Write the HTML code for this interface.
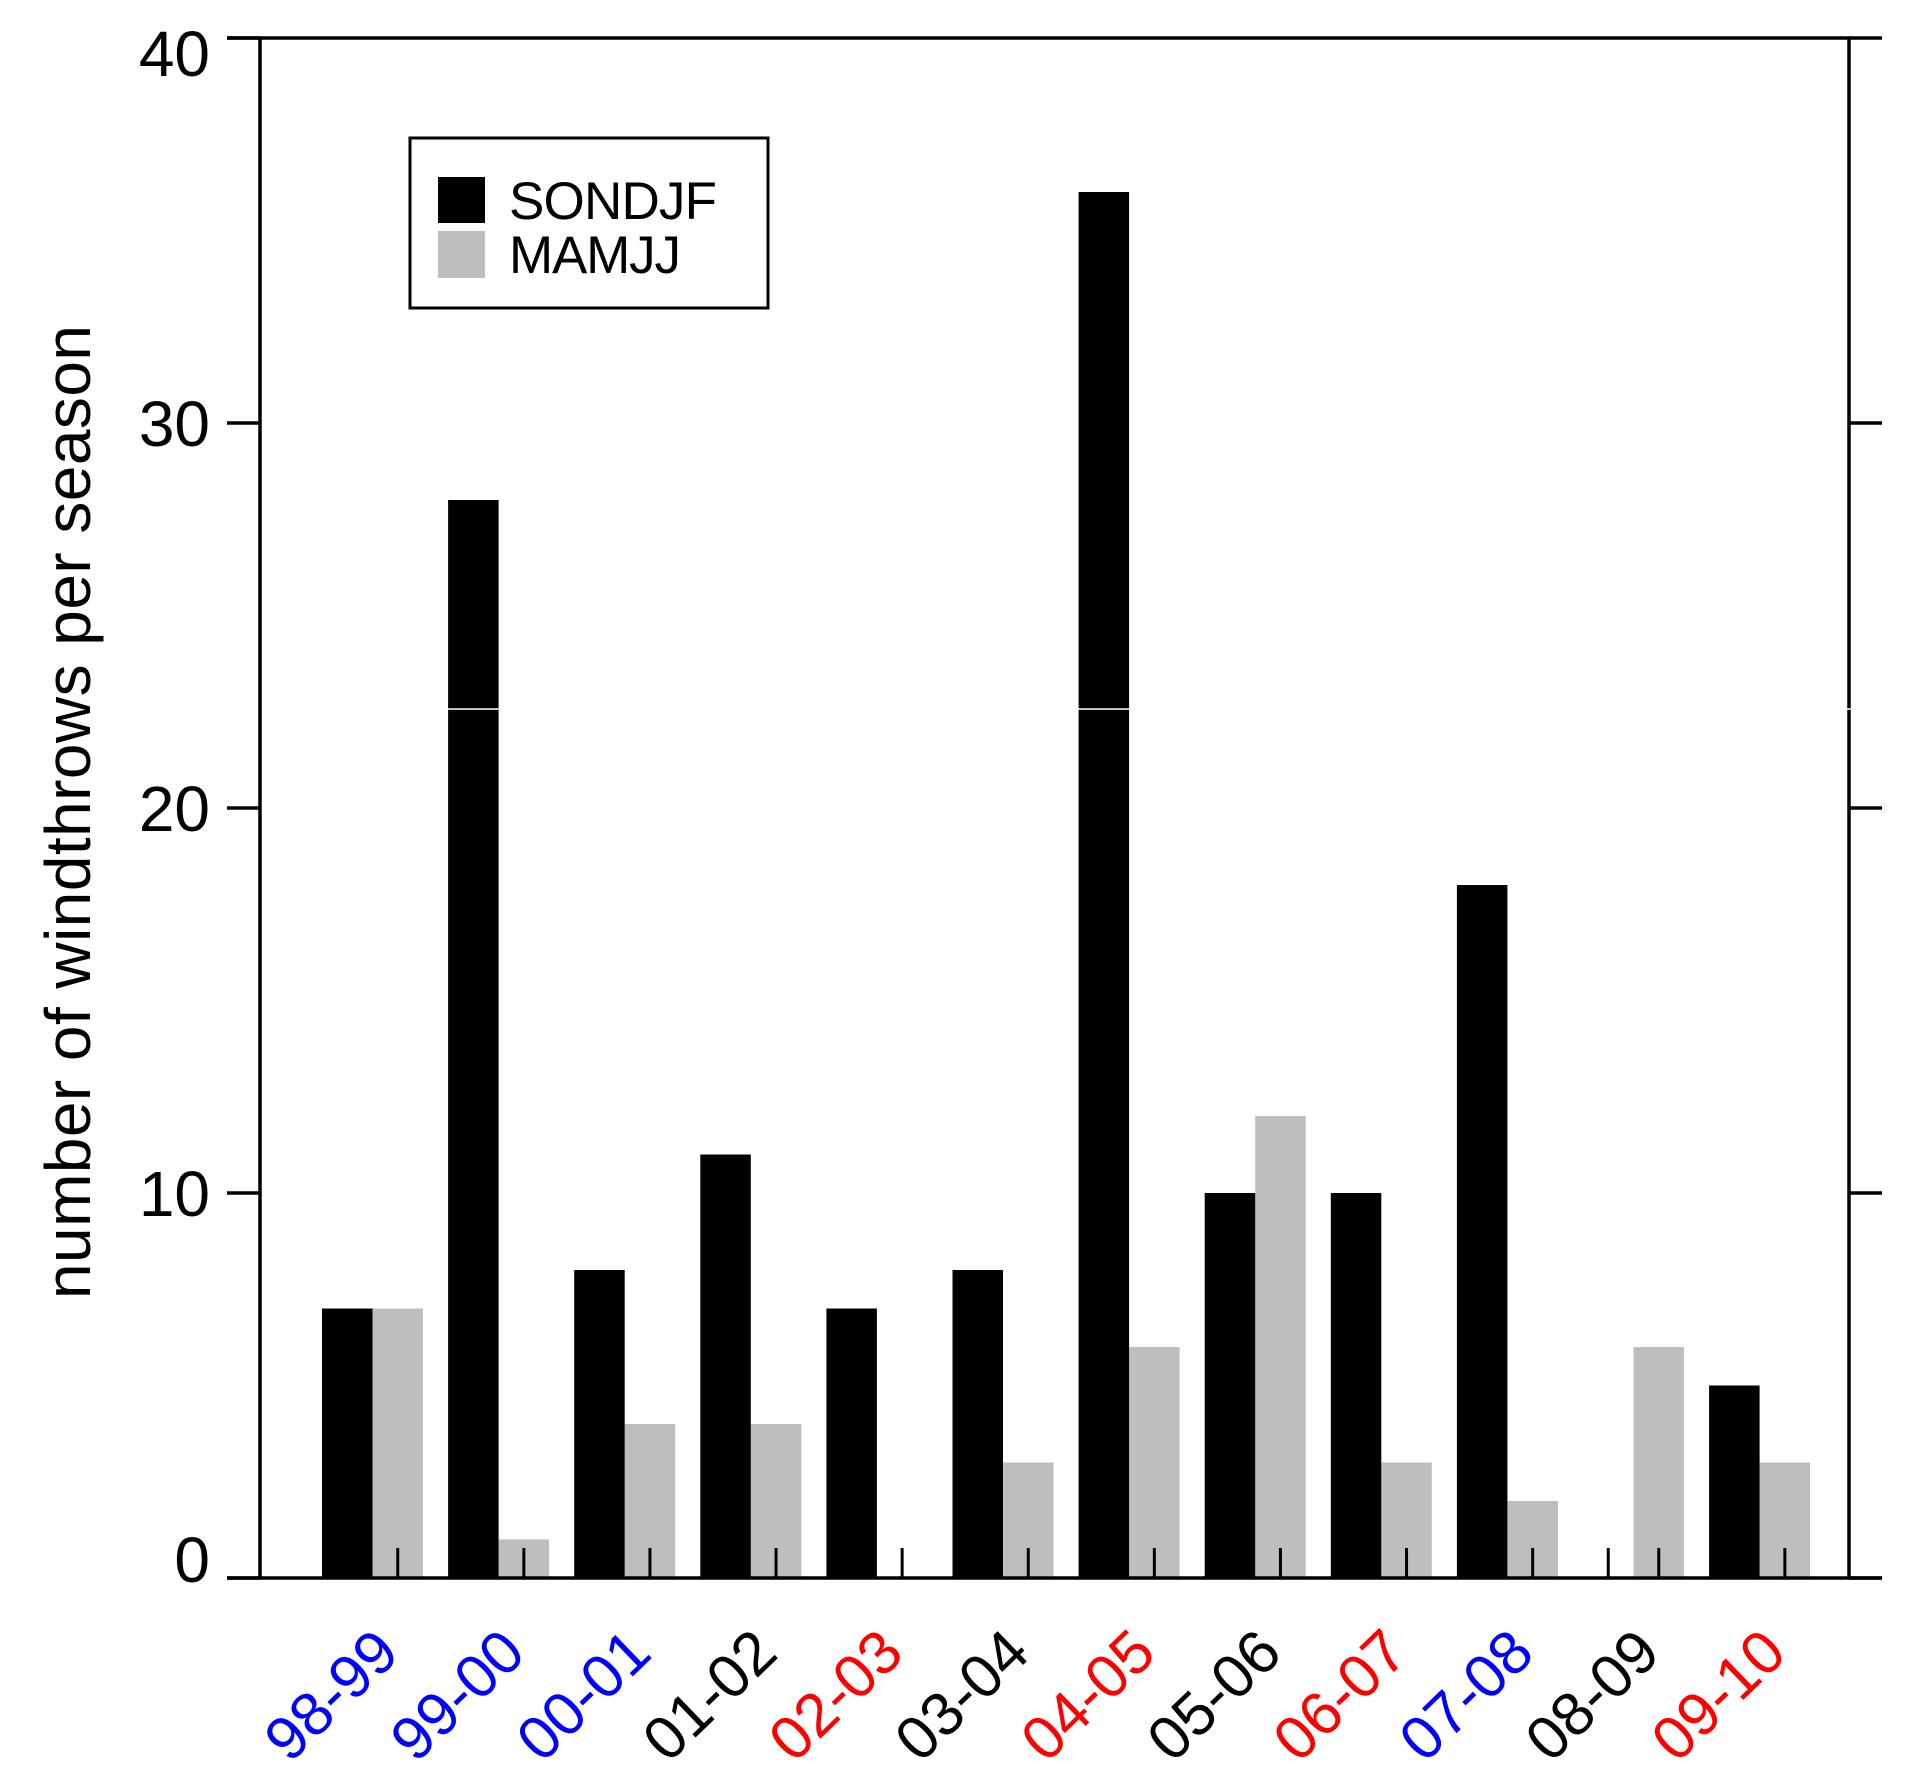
<!DOCTYPE html>
<html><head><meta charset="utf-8"><style>
html,body{margin:0;padding:0;background:#fff;}
svg{display:block;}
text{font-family:"Liberation Sans",Arial,sans-serif;}
</style></head><body>
<svg id="chart" width="1916" height="1768" viewBox="0 0 1916 1768" xmlns="http://www.w3.org/2000/svg">
<g id="bars"></g>
<g id="axes"></g>
<g id="legend">
  <rect x="410" y="138" width="358" height="170" fill="#fff" stroke="#000" stroke-width="3"/>
  <rect x="438" y="177" width="47" height="46" fill="#000"/>
  <rect x="438" y="231" width="47" height="47" fill="#bebebe"/>
  <text x="509" y="219" font-size="53" textLength="208">SONDJF</text>
  <text x="509" y="273" font-size="53" textLength="172">MAMJJ</text>
</g>
<text transform="translate(90,812) rotate(-90)" text-anchor="middle" font-size="64" textLength="974">number of windthrows per season</text>
</svg>
<script>
const categories = ["98-99","99-00","00-01","01-02","02-03","03-04","04-05","05-06","06-07","07-08","08-09","09-10"];
const labelColors = ["#0000ff","#0000ff","#0000ff","#000","#ff0000","#000","#ff0000","#000","#ff0000","#0000ff","#000","#ff0000"];
const sondjf = [7,28,8,11,7,8,36,10,10,18,0,5];
const mamjj = [7,1,4,4,0,3,6,12,3,2,6,3];
const yTicks = [0,10,20,30,40];

const NS = "http://www.w3.org/2000/svg";
const X0 = 260, X1 = 1849, Y0 = 1578, Y1 = 38;
const yMax = 40;
function yScale(v){ return Y0 - (v / yMax) * (Y0 - Y1); }
const groupStart = 322, groupStep = 126.1, barW = 50.5;
function xBar(i, s){ return groupStart + i * groupStep + s * barW; }

function mk(tag, attrs, parent){
  const e = document.createElementNS(NS, tag);
  for (const k in attrs) e.setAttribute(k, attrs[k]);
  parent.appendChild(e);
  return e;
}
const bars = document.getElementById('bars');
const axes = document.getElementById('axes');

mamjj.forEach((v, i) => {
  const r = mk('rect', {x: xBar(i,1), y: yScale(v), width: barW, height: Y0 - yScale(v), fill: '#bebebe'}, bars);
  
  
});
categories.forEach((c, i) => {
  [0,1].forEach(s => {
    const t = mk('line', {x1: xBar(i,s) + barW/2, x2: xBar(i,s) + barW/2, y1: Y0 - 30, y2: Y0, stroke: '#000', 'stroke-width': 3}, bars);
    
    
  });
});
sondjf.forEach((v, i) => {
  const r = mk('rect', {x: xBar(i,0), y: yScale(v), width: barW, height: Y0 - yScale(v), fill: '#000'}, bars);
  
  
});

const frame = mk('path', {d: `M227 ${Y1} H${X1} V${Y0} M${X0} ${Y1} V${Y0} M227 ${Y0} H1882`, fill: 'none', stroke: '#000', 'stroke-width': 3.5}, axes);



const wl = mk('line', {x1: X0 + 2, x2: X1 + 3, y1: 709, y2: 709, stroke: '#fff', 'stroke-width': 1.5}, axes);



const labelOffsets = {0: 4, 40: 38};
yTicks.forEach(v => {
  const y = yScale(v);
  const tl = mk('line', {x1: 227, x2: X0, y1: y, y2: y, stroke: '#000', 'stroke-width': 3.5}, axes);
  
  
  const tr = mk('line', {x1: X1, x2: 1882, y1: y, y2: y, stroke: '#000', 'stroke-width': 3.5}, axes);
  
  
  const off = (v in labelOffsets) ? labelOffsets[v] : 23;
  const t = mk('text', {x: 210, y: y + off, 'text-anchor': 'end', 'font-size': 64}, axes);
  t.textContent = String(v);
  
  
});

categories.forEach((c, i) => {
  const cx = xBar(i,1) + barW/2 + 4;
  const t = mk('text', {transform: `translate(${cx},1656) rotate(-44)`, 'text-anchor': 'end', 'font-size': 61, fill: labelColors[i]}, axes);
  t.textContent = c;
  
  
});
</script>
</body></html>
